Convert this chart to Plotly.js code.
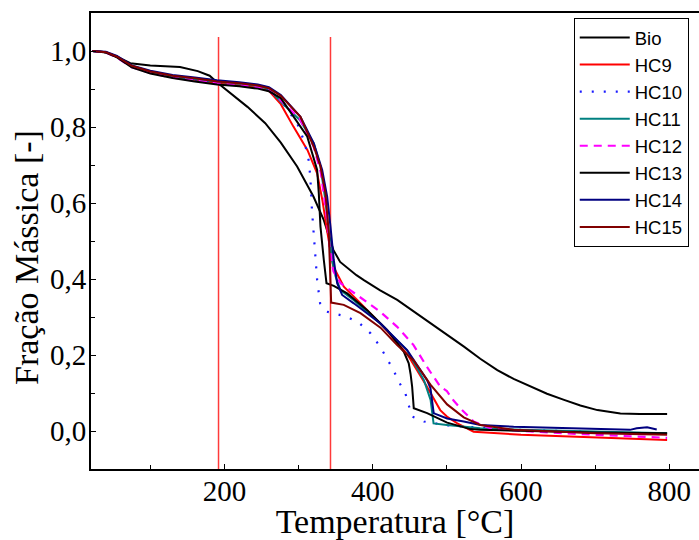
<!DOCTYPE html>
<html>
<head>
<meta charset="utf-8">
<script src="https://cdn.plot.ly/plotly-3.0.1.min.js"></script>
<style>html,body{margin:0;padding:0;background:#fff;}#chart{width:699px;height:540px;}</style>
</head>
<body>
<div id="chart"></div>
<script>
// Shared early segment (temperature °C)
var earlyT = [22, 40, 55, 75, 100, 130, 160, 190, 220, 245, 260];

// Bio
var bioT = [22, 40, 55, 73, 100, 140, 164, 180, 191, 210, 231, 255, 276, 298, 320, 334, 347, 356, 366, 378, 388, 410, 433, 455, 478, 500, 523, 545, 568, 590, 613, 635, 658, 680, 703, 720, 734, 760, 797];
var bioM = [1.0, 0.997, 0.985, 0.968, 0.962, 0.958, 0.947, 0.935, 0.916, 0.885, 0.853, 0.81, 0.759, 0.696, 0.617, 0.555, 0.476, 0.445, 0.428, 0.41, 0.397, 0.37, 0.345, 0.315, 0.284, 0.254, 0.222, 0.19, 0.16, 0.137, 0.117, 0.098, 0.082, 0.067, 0.055, 0.049, 0.046, 0.045, 0.045];

// HC9
var hc9T = earlyT.concat([276, 293, 312, 325, 332, 339, 347, 354, 361, 379, 410, 446, 473, 491, 500, 514, 536, 600, 700, 797]);
var hc9M = [1.0, 0.997, 0.985, 0.958, 0.943, 0.932, 0.924, 0.916, 0.91, 0.903, 0.895, 0.86, 0.801, 0.739, 0.678, 0.608, 0.52, 0.432, 0.406, 0.38, 0.345, 0.283, 0.204, 0.117, 0.055, 0.038, 0.02, -0.002, -0.01, -0.018, -0.024];

// HC10
var hc10T = earlyT.concat([276, 298, 308, 314, 316, 318, 320.5, 323, 325, 329, 338, 365, 383, 397, 410, 419, 428, 435, 444, 448.5, 453, 469, 500, 550, 600, 700, 797]);
var hc10M = [1.0, 0.997, 0.985, 0.959, 0.944, 0.932, 0.925, 0.918, 0.912, 0.906, 0.898, 0.87, 0.81, 0.76, 0.709, 0.66, 0.582, 0.52, 0.467, 0.397, 0.336, 0.314, 0.301, 0.282, 0.257, 0.222, 0.191, 0.16, 0.13, 0.099, 0.068, 0.038, 0.025, 0.015, 0.008, 0.003, -0.003, -0.008];

// HC11
var hc11T = earlyT.concat([276, 302, 320.5, 329.5, 336, 341, 345, 350, 356.5, 374, 410, 446, 469, 478, 482, 500, 545, 600, 700, 797]);
var hc11M = [1.0, 0.997, 0.985, 0.96, 0.945, 0.933, 0.926, 0.919, 0.914, 0.908, 0.9, 0.866, 0.818, 0.757, 0.696, 0.608, 0.52, 0.45, 0.406, 0.371, 0.345, 0.283, 0.213, 0.134, 0.082, 0.02, 0.016, 0.007, 0.003, -0.002, -0.006];

// HC12
var hc12T = earlyT.concat([276, 302, 320, 330, 337, 342, 347, 356.5, 383, 410, 433, 455, 473, 491, 500, 509, 518, 532, 536, 559, 600, 700, 797]);
var hc12M = [1.0, 0.996, 0.983, 0.957, 0.942, 0.93, 0.922, 0.915, 0.91, 0.904, 0.897, 0.87, 0.82, 0.75, 0.68, 0.58, 0.48, 0.42, 0.389, 0.353, 0.314, 0.274, 0.226, 0.169, 0.117, 0.105, 0.08, 0.06, 0.033, 0.025, 0.007, 0.0, -0.01, -0.018];

// HC13
var hc13T = earlyT.concat([276, 311.6, 325, 327.2, 329.5, 334, 337.6, 347.4, 365.5, 392.5, 419.4, 441.8, 448.5, 451, 453.1, 455.3, 473.3, 500.3, 531.7, 545, 600, 700, 797]);
var hc13M = [1.0, 0.996, 0.983, 0.957, 0.941, 0.929, 0.92, 0.912, 0.907, 0.901, 0.894, 0.876, 0.775, 0.687, 0.626, 0.538, 0.45, 0.389, 0.382, 0.362, 0.318, 0.266, 0.209, 0.178, 0.15, 0.117, 0.06, 0.047, 0.022, 0.005, 0.003, 0.0, -0.004, -0.006];

// HC14
var hc14T = earlyT.concat([276, 302.5, 320.5, 331.8, 338.5, 343, 347.4, 352, 358.7, 374.4, 410.4, 446.4, 473.3, 477.8, 482.2, 484.5, 500.3, 522.7, 545.2, 590, 680, 747, 756, 770, 783]);
var hc14M = [1.0, 0.998, 0.987, 0.962, 0.948, 0.937, 0.93, 0.923, 0.918, 0.912, 0.905, 0.884, 0.827, 0.757, 0.687, 0.617, 0.538, 0.45, 0.389, 0.358, 0.336, 0.283, 0.213, 0.134, 0.113, 0.047, 0.045, 0.033, 0.025, 0.016, 0.011, 0.007, 0.003, 0.007, 0.01, 0.004];

// HC15
var hc15T = earlyT.concat([276, 302.5, 320.5, 329.5, 336.2, 340.7, 343, 343.9, 360.9, 383.4, 410.4, 432.9, 455.3, 477.8, 500.3, 522.7, 545.2, 590, 700, 797]);
var hc15M = [1.0, 0.997, 0.985, 0.961, 0.946, 0.935, 0.928, 0.92, 0.915, 0.909, 0.902, 0.882, 0.827, 0.748, 0.696, 0.626, 0.52, 0.38, 0.338, 0.332, 0.31, 0.272, 0.226, 0.185, 0.122, 0.07, 0.036, 0.016, 0.003, -0.006, -0.01];

// Vertical reference lines (°C)
var markerTemps = [192, 343];

var seriesNames = ['Bio', 'HC9', 'HC10', 'HC11', 'HC12', 'HC13', 'HC14', 'HC15'];
var seriesT = [bioT, hc9T, hc10T, hc11T, hc12T, hc13T, hc14T, hc15T];
var seriesM = [bioM, hc9M, hc10M, hc11M, hc12M, hc13M, hc14M, hc15M];
var colors = ['#000000', '#ff0000', '#1a1aff', '#008080', '#ff00ff', '#000000', '#000080', '#800000'];
var dashes = ['solid', 'solid', '2px,10px', 'solid', '8px,6px', 'solid', 'solid', 'solid'];
var widths = [2, 2, 2.2, 2, 2.2, 2, 2, 2];

var traces = seriesNames.map(function (n, i) {
  return {
    x: seriesT[i], y: seriesM[i], name: n, type: 'scatter', mode: 'lines',
    line: {color: colors[i], width: widths[i], dash: dashes[i]}
  };
});

var shapes = markerTemps.map(function (t) {
  return {type: 'line', xref: 'x', yref: 'y', x0: t, x1: t, y0: -0.1, y1: 1.037,
          line: {color: '#ff3a3a', width: 1.5}, layer: 'below'};
});

var serif = 'Liberation Serif';
var layout = {
  width: 699, height: 540,
  margin: {l: 91, r: 0, t: 13, b: 71},
  paper_bgcolor: '#ffffff', plot_bgcolor: '#ffffff',
  font: {family: serif, size: 29, color: '#000'},
  separators: ',.',
  showlegend: true,
  xaxis: {
    range: [20, 840], showgrid: false, zeroline: false,
    showline: true, linecolor: '#000', linewidth: 2, mirror: true,
    ticks: 'inside', ticklen: 5, tickwidth: 1, tickcolor: '#000',
    dtick: 200, tick0: 0, ticklabelstandoff: -5,
    minor: {dtick: 100, ticks: 'inside', ticklen: 4, tickwidth: 1, tickcolor: '#000'},
    tickfont: {family: serif, size: 29, color: '#000'},
    title: {text: 'Temperatura [°C]', font: {family: serif, size: 34, color: '#000'}, standoff: 11}
  },
  yaxis: {
    range: [-0.1, 1.1], showgrid: false, zeroline: false,
    showline: true, linecolor: '#000', linewidth: 2, mirror: false,
    ticks: 'inside', ticklen: 5, tickwidth: 1, tickcolor: '#000',
    dtick: 0.2, tick0: 0, tickformat: '.1f', ticklabelstandoff: -3,
    minor: {dtick: 0.1, ticks: 'inside', ticklen: 4, tickwidth: 1, tickcolor: '#000'},
    tickfont: {family: serif, size: 29, color: '#000'}
  },
  annotations: [{
    text: 'Fração Mássica [-]', xref: 'paper', yref: 'paper',
    x: -0.105, y: 0.463, xanchor: 'center', yanchor: 'middle',
    textangle: -90, showarrow: false,
    font: {family: serif, size: 34, color: '#000'}
  }],
  legend: {
    x: 0.794, y: 0.989, xanchor: 'left', yanchor: 'top',
    bgcolor: '#ffffff', bordercolor: '#000', borderwidth: 1,
    font: {family: 'Liberation Sans', size: 18.5, color: '#000'},
    itemwidth: 50, tracegroupgap: 0
  },
  shapes: shapes
};

Plotly.newPlot('chart', traces, layout, {displayModeBar: false, staticPlot: true});
</script>
</body>
</html>
